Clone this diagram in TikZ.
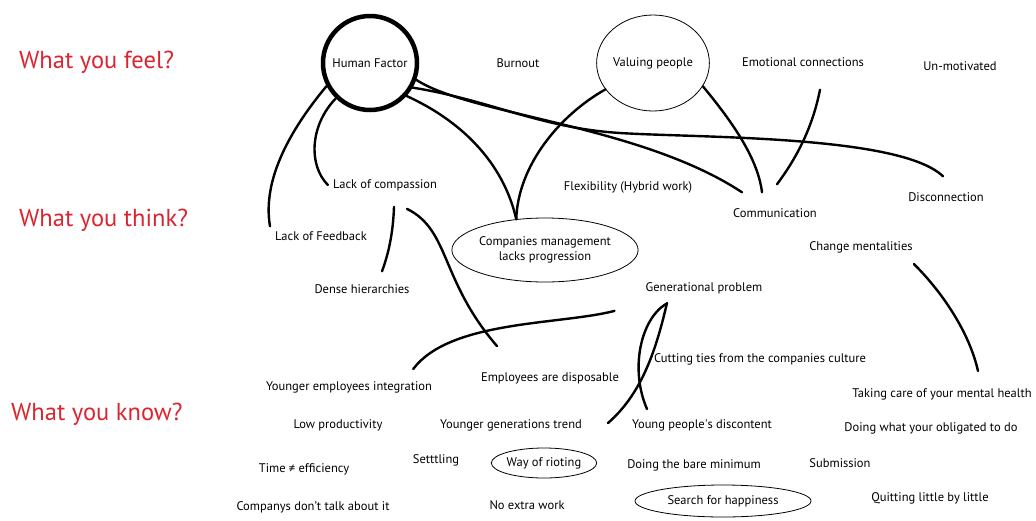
\documentclass[tikz,border=0pt]{standalone}
\usepackage{fontspec}
\setmainfont{PT Sans}
\usetikzlibrary{shapes.geometric}
\definecolor{MapRed}{HTML}{DA2530}

\begin{document}
\begin{tikzpicture}[x=1pt,y=-1pt,line width=2.4pt,font=\fontsize{12.5}{15}\selectfont,
 every node/.style={inner sep=4pt},
 lvl/.style={text=MapRed,font=\fontsize{24.5}{28}\selectfont,anchor=west,inner sep=0pt},
 oval/.style={draw,ellipse,line width=.8pt,inner sep=0pt},
 link/.style={line cap=round}]
\useasboundingbox (0,0) rectangle (1036,520);
% levels
\node[lvl] (feel) at (18,62) {What you feel?};
\node[lvl] (think) at (18,220) {What you think?};
\node[lvl] (know) at (10,414) {What you know?};
% feel
\node[draw,circle,line width=4.5pt,minimum size=94pt] (hf) at (370,63) {Human Factor};
\node (burn) at (518,63) {Burnout};
\node[oval,minimum width=110pt,minimum height=96pt] (vp) at (653,63) {Valuing people};
\node (emo) at (803,62) {Emotional connections};
\node (unmot) at (960,66) {Un-motivated};
% think
\node (lcomp) at (385,185) {Lack of compassion};
\node (flex) at (628,187) {Flexibility (Hybrid work)};
\node (disc) at (946,197) {Disconnection};
\node (comm) at (775,213) {Communication};
\node (lfb) at (321,236) {Lack of Feedback};
\node[oval,minimum width=186pt,minimum height=64pt,align=center] (cmlp) at (545,250) {Companies management\\lacks progression};
\node (chm) at (861,247) {Change mentalities};
\node (dense) at (362,289) {Dense hierarchies};
\node (gen) at (704,288) {Generational problem};
% know
\node (cut) at (760,359) {Cutting ties from the companies culture};
\node (yei) at (349,387) {Younger employees integration};
\node (disp) at (550,378) {Employees are disposable};
\node (mental) at (942,394) {Taking care of your mental health};
\node (lowp) at (338,425) {Low productivity};
\node (ygt) at (511,425) {Younger generations trend};
\node (ypd) at (702,425) {Young people\textquotesingle s discontent};
\node (oblig) at (931,428) {Doing what your obligated to do};
\node (timeeff) at (304,469) {Time ≠ efficiency};
\node (settle) at (436,460) {Setttling};
\node[oval,minimum width=104pt,minimum height=30pt] (riot) at (544,463) {Way of rioting};
\node (bare) at (694,465) {Doing the bare minimum};
\node (subm) at (840,463) {Submission};
\node (talk) at (313,507) {Companys don’t talk about it};
\node (noextra) at (527,505) {No extra work};
\node[oval,minimum width=176pt,minimum height=32pt] (happy) at (723,501) {Search for happiness};
\node (quit) at (930,498) {Quitting little by little};
% links
\draw[link] (hf.208) .. controls (290,130) and (262,180) .. (lfb.north west);
\draw[link] (hf.226) .. controls (310,125) and (308,165) .. (lcomp.west);
\draw[link] (hf.-42) .. controls (470,125) and (505,170) .. (cmlp.133);
\draw[link] (vp.209) .. controls (560,115) and (518,165) .. (cmlp.133);
\draw[link] (hf.-20) .. controls (470,115) and (640,125) .. ([shift={(-33,-11)}]comm.north);
\draw[link] (hf.-30) .. controls (490,100) and (540,128) .. (620,133)
 .. controls (700,138) and (900,135) .. ([shift={(-3,-11)}]disc.north);
\draw[link] (vp.-25) .. controls (735,125) and (758,160) .. ([shift={(-13,-11)}]comm.north);
\draw[link] ([shift={(17,18)}]emo.south) .. controls (812,130) and (795,160) .. ([shift={(2,-19)}]comm.north);
\draw[link] ([shift={(9,11)}]lcomp.south) .. controls (393,235) and (388,255) .. ([shift={(20,-8)}]dense.north);
\draw[link] ([shift={(22,13)}]lcomp.south) .. controls (450,230) and (440,280) .. ([shift={(-53,-21)}]disp.north);
\draw[link] ([shift={(-26,12)}]gen.south west) .. controls (560,325) and (450,320) .. ([shift={(-24,-7)}]yei.north east);
\draw[link] ([shift={(-38,5)}]gen.south) .. controls (640,320) and (630,370) .. ([shift={(-55,-5)}]ypd.north);
\draw[link] ([shift={(-37,4)}]gen.south) .. controls (655,355) and (640,395) .. ([shift={(21,-2)}]ygt.east);
\draw[link] ([shift={(-4,6)}]chm.south east) .. controls (945,295) and (970,335) .. ([shift={(36,-12)}]mental.north);
\end{tikzpicture}
\end{document}
